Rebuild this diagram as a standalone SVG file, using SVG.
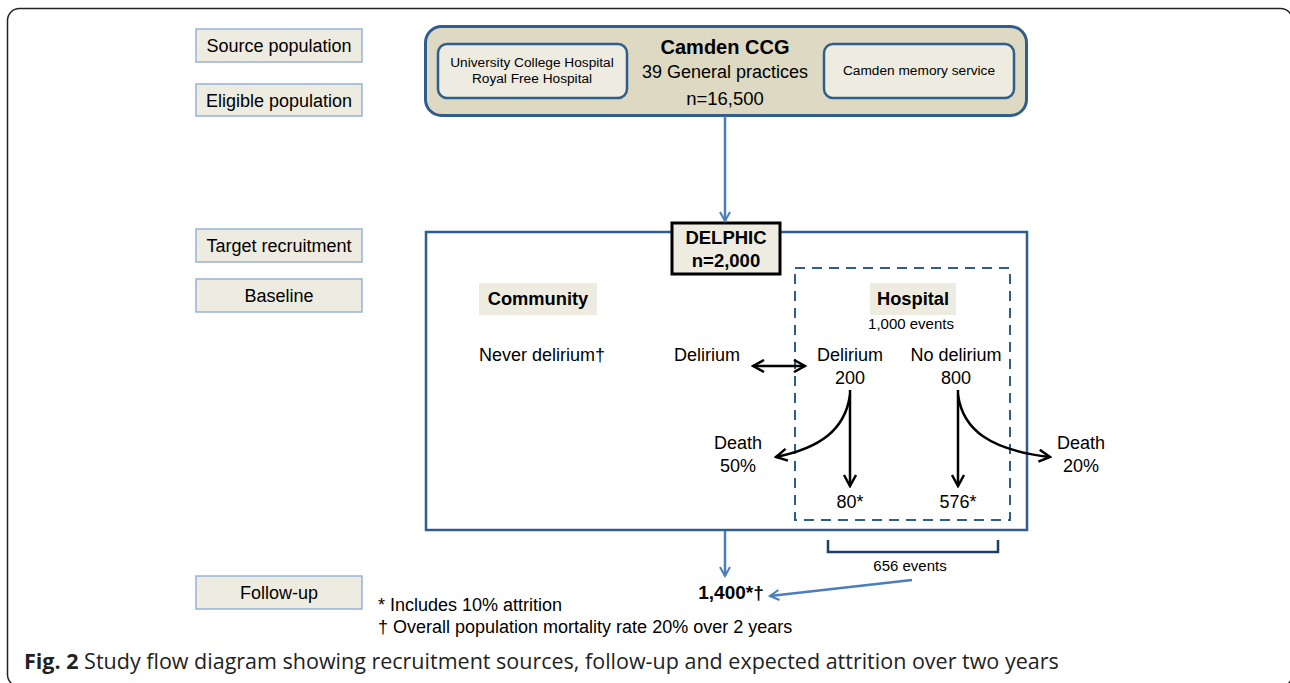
<svg xmlns="http://www.w3.org/2000/svg" width="1290" height="683" viewBox="0 0 1290 683">
<defs>
<style>
.t{font-family:"Liberation Sans",Arial,sans-serif;fill:#000}
.lbl rect{fill:#EEECE1;stroke:#95B3D7;stroke-width:1.5}
.lbl text{font-family:"Liberation Sans",Arial,sans-serif;font-size:18px;text-anchor:middle}
.inner{fill:#EEECE1;stroke:#2F5D8C;stroke-width:2.5}
.blue{stroke:#4A7EBB;stroke-width:2.5;fill:none}
.blk{stroke:#000;stroke-width:2.5;fill:none}
</style>
<marker id="ab" viewBox="0 0 12 12" refX="10" refY="6" markerWidth="12" markerHeight="12" markerUnits="userSpaceOnUse" orient="auto-start-reverse">
<path d="M1,1 L10,6 L1,11" fill="none" stroke="#4A7EBB" stroke-width="2"/>
</marker>
<marker id="ak" viewBox="0 0 14 14" refX="12" refY="7" markerWidth="14" markerHeight="14" markerUnits="userSpaceOnUse" orient="auto-start-reverse">
<path d="M1,1 L12,7 L1,13" fill="none" stroke="#000" stroke-width="2.5"/>
</marker>
</defs>
<rect x="0" y="0" width="1290" height="683" fill="#fff"/>
<rect x="7.5" y="8.5" width="1285" height="678" rx="12" fill="none" stroke="#222" stroke-width="1.5"/>

<g id="label-source" class="lbl"><rect x="196" y="29" width="166" height="33"/><text x="279" y="52">Source population</text></g>
<g id="label-eligible" class="lbl"><rect x="196" y="84" width="166" height="32"/><text x="279" y="107">Eligible population</text></g>
<g id="label-target" class="lbl"><rect x="196" y="229" width="166" height="33"/><text x="279" y="252">Target recruitment</text></g>
<g id="label-baseline" class="lbl"><rect x="196" y="279" width="166" height="33"/><text x="279" y="302">Baseline</text></g>
<g id="label-followup" class="lbl"><rect x="196" y="576" width="166" height="33"/><text x="279" y="599">Follow-up</text></g>

<g id="camden">
<rect x="425.5" y="26.5" width="601" height="89" rx="16" fill="#DDD9C3" stroke="#2F5D8C" stroke-width="3"/>
<text class="t" x="725" y="54" font-size="20" font-weight="bold" text-anchor="middle">Camden CCG</text>
<text class="t" x="725" y="78" font-size="18" text-anchor="middle">39 General practices</text>
<text class="t" x="725" y="105" font-size="18.5" text-anchor="middle">n=16,500</text>
</g>
<g id="hospitals">
<rect class="inner" x="438" y="44" width="189" height="54" rx="9"/>
<text class="t" x="532" y="67" font-size="13.7" text-anchor="middle">University College Hospital</text>
<text class="t" x="532" y="83" font-size="13.7" text-anchor="middle">Royal Free Hospital</text>
</g>
<g id="memory">
<rect class="inner" x="824" y="44" width="190" height="54" rx="9"/>
<text class="t" x="919" y="75" font-size="13.7" text-anchor="middle">Camden memory service</text>
</g>

<g id="study-box">
<rect x="426" y="232" width="601" height="298" fill="none" stroke="#2F5D8C" stroke-width="2.5"/>
</g>
<g id="hospital-box">
<rect x="795" y="268" width="215" height="252" fill="none" stroke="#2F5D8C" stroke-width="2" stroke-dasharray="10,7"/>
</g>
<g id="delphic">
<rect x="672" y="223" width="108" height="51" fill="#EEECE1" stroke="#000" stroke-width="3"/>
<text class="t" x="726" y="244" font-size="18.5" font-weight="bold" text-anchor="middle">DELPHIC</text>
<text class="t" x="726" y="267" font-size="18.5" font-weight="bold" text-anchor="middle">n=2,000</text>
</g>
<g id="community">
<rect x="479" y="283" width="118" height="32" fill="#EEECE1"/>
<text class="t" x="538" y="305" font-size="18.3" font-weight="bold" text-anchor="middle">Community</text>
</g>
<g id="hospital">
<rect x="870" y="283" width="86" height="32" fill="#EEECE1"/>
<text class="t" x="913" y="305" font-size="18.3" font-weight="bold" text-anchor="middle">Hospital</text>
<text class="t" x="911" y="329" font-size="15" text-anchor="middle">1,000 events</text>
</g>
<g id="never-delirium"><text class="t" x="479" y="361" font-size="18">Never delirium†</text></g>
<g id="community-delirium"><text class="t" x="707" y="361" font-size="18" text-anchor="middle">Delirium</text></g>
<g id="hosp-delirium"><text class="t" x="850" y="361" font-size="18" text-anchor="middle">Delirium</text><text class="t" x="850" y="384" font-size="18" text-anchor="middle">200</text></g>
<g id="no-delirium"><text class="t" x="956" y="361" font-size="18" text-anchor="middle">No delirium</text><text class="t" x="956" y="384" font-size="18" text-anchor="middle">800</text></g>
<g id="death50"><text class="t" x="738" y="449" font-size="18" text-anchor="middle">Death</text><text class="t" x="738" y="472" font-size="18" text-anchor="middle">50%</text></g>
<g id="death20"><text class="t" x="1081" y="449" font-size="18" text-anchor="middle">Death</text><text class="t" x="1081" y="472" font-size="18" text-anchor="middle">20%</text></g>
<g id="n80"><text class="t" x="850" y="508" font-size="18" text-anchor="middle">80*</text></g>
<g id="n576"><text class="t" x="958" y="508" font-size="18" text-anchor="middle">576*</text></g>
<g id="events656"><text class="t" x="910" y="571" font-size="15" text-anchor="middle">656 events</text></g>
<g id="n1400"><text class="t" x="731" y="599" font-size="19" font-weight="bold" text-anchor="middle">1,400*†</text></g>
<g id="notes">
<text class="t" x="378" y="611" font-size="18">* Includes 10% attrition</text>
<text class="t" x="378" y="633" font-size="18">† Overall population mortality rate 20% over 2 years</text>
</g>
<g id="caption"><text x="24" y="669" font-family="'Open Sans',sans-serif" font-size="21.5" fill="#222"><tspan font-weight="bold">Fig. 2</tspan> Study flow diagram showing recruitment sources, follow-up and expected attrition over two years</text></g>

<g id="connectors">
<line class="blue" x1="725" y1="116" x2="725" y2="221" marker-end="url(#ab)"/>
<line class="blue" x1="725" y1="531" x2="725" y2="576" marker-end="url(#ab)"/>
<line class="blue" x1="912" y1="580" x2="770" y2="596" marker-end="url(#ab)"/>
<path d="M828,540 V552 H998 V540" fill="none" stroke="#1F3D6B" stroke-width="2.5"/>
<line class="blk" x1="753" y1="366" x2="805" y2="366" marker-start="url(#ak)" marker-end="url(#ak)"/>
<line class="blk" x1="850" y1="390" x2="850" y2="486" marker-end="url(#ak)"/>
<path class="blk" d="M850,395 C845,430 820,448 776,457" marker-end="url(#ak)"/>
<line class="blk" x1="958" y1="390" x2="958" y2="486" marker-end="url(#ak)"/>
<path class="blk" d="M958,395 C963,430 990,450 1050,457" marker-end="url(#ak)"/>
</g>
</svg>
